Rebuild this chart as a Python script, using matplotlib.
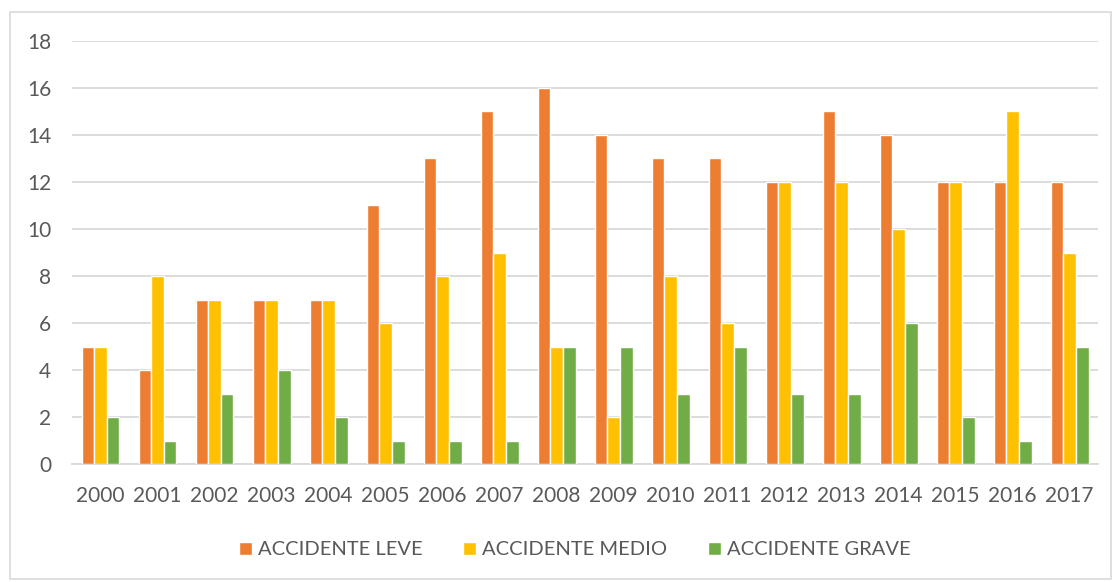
import matplotlib.pyplot as plt
import numpy as np
from matplotlib.patches import Rectangle

years = [str(y) for y in range(2000, 2018)]
leve = [5, 4, 7, 7, 7, 11, 13, 15, 16, 14, 13, 13, 12, 15, 14, 12, 12, 12]
medio = [5, 8, 7, 7, 7, 6, 8, 9, 5, 2, 8, 6, 12, 12, 10, 12, 15, 9]
grave = [2, 1, 3, 4, 2, 1, 1, 1, 5, 5, 3, 5, 3, 3, 6, 2, 1, 5]
series_names = ['ACCIDENTE LEVE', 'ACCIDENTE MEDIO', 'ACCIDENTE GRAVE']
colors = ['#ED7D31', '#FFC000', '#70AD47']

plt.rcParams['font.family'] = ['Lato', 'DejaVu Sans']
text_color = '#595959'

fig = plt.figure(figsize=(11.18, 5.82), dpi=100)
ax = fig.add_axes([0.0644, 0.2027, 0.9178, 0.7269])

x = np.arange(len(years))
step = 0.222
for i, (vals, name, c) in enumerate(zip([leve, medio, grave], series_names, colors)):
    ax.bar(x + (i - 1) * step, vals, width=step, color=c, edgecolor='white',
           linewidth=1.0, label=name, zorder=3)

ax.set_xlim(-0.5, len(years) - 0.5)
ax.set_ylim(0, 18)
ax.set_yticks(range(0, 19, 2))
ax.set_xticks(x)
ax.set_xticklabels(years)
ax.grid(axis='y', color='#D9D9D9', linewidth=1.3, zorder=0)
for s in ['top', 'right', 'left']:
    ax.spines[s].set_visible(False)
ax.spines['bottom'].set_color('#D9D9D9')
ax.spines['bottom'].set_linewidth(1.3)
ax.tick_params(axis='both', length=0, labelsize=15, colors=text_color)
ax.tick_params(axis='x', pad=16)
ax.tick_params(axis='y', pad=15)

leg = fig.legend(loc='center', bbox_to_anchor=(0.514, 0.055), ncol=3, frameon=False,
                 fontsize=14.5, handlelength=0.65, handleheight=0.65, columnspacing=2.0,
                 handletextpad=0.3)
for t in leg.get_texts():
    t.set_color(text_color)

fig.patches.append(Rectangle((0.009, 0.005), 0.985, 0.975, transform=fig.transFigure,
                             fill=False, edgecolor='#D9D9D9', linewidth=1.2))

fig.savefig('out.png', dpi=100)
